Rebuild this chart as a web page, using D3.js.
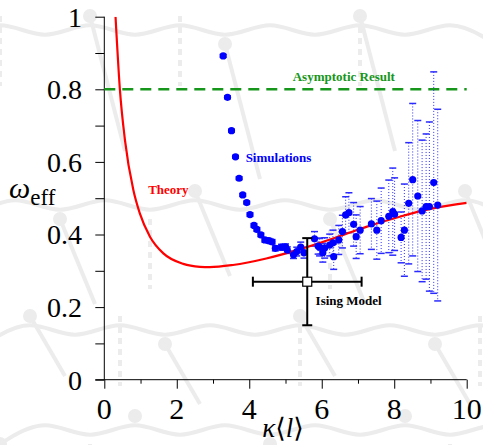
<!DOCTYPE html>
<html>
<head>
<meta charset="utf-8">
<script src="https://cdn.jsdelivr.net/npm/d3@7"></script>
<style>
  body { margin: 0; background: #fff; }
</style>
</head>
<body>
<svg id="chart"></svg>
<script>
// theory curve
const theoryK = [0.31, 0.43, 0.57, 0.8, 0.98, 1.26, 1.63, 2.18, 2.64, 2.91, 3.55, 4.47, 5.39, 6.31, 7.23, 8.15, 9.06, 10];
const theoryW = [1.0, 0.8, 0.66, 0.523, 0.458, 0.394, 0.348, 0.319, 0.311, 0.31, 0.316, 0.334, 0.359, 0.389, 0.421, 0.449, 0.472, 0.487];

// simulations: kappa <l>, omega_eff, error
const simK = [3.28, 3.40, 3.51, 3.62, 3.72, 3.82, 3.93, 4.02, 4.13, 4.21, 4.32, 4.43, 4.54, 4.63, 4.72, 4.89, 5.00, 5.05,
    5.22, 5.31, 5.42, 5.51, 5.80, 5.90, 5.94, 6.03, 6.08, 6.22, 6.31, 6.33, 6.47, 6.57, 6.66, 6.75, 6.88, 6.95, 7.06,
    7.37, 7.52, 7.64, 7.85, 7.96, 8.01, 8.19, 8.28, 8.40, 8.51, 8.65, 8.77, 8.88, 8.97, 9.09, 9.20];
const simW = [0.892, 0.778, 0.686, 0.614, 0.555, 0.509, 0.488, 0.455, 0.425, 0.414, 0.399, 0.385, 0.383, 0.380, 0.362, 0.365, 0.366, 0.357,
    0.344, 0.353, 0.365, 0.350, 0.388, 0.368, 0.365, 0.350, 0.363, 0.371, 0.377, 0.339, 0.385, 0.408, 0.454, 0.460, 0.428, 0.394, 0.412,
    0.429, 0.412, 0.438, 0.450, 0.463, 0.456, 0.392, 0.412, 0.486, 0.551, 0.506, 0.465, 0.477, 0.477, 0.543, 0.481];
const simErr = [0.004, 0.004, 0.004, 0.004, 0.004, 0.004, 0.004, 0.005, 0.005, 0.005, 0.005, 0.006, 0.006, 0.006, 0.007, 0.008, 0.008, 0.009,
    0.01, 0.012, 0.014, 0.015, 0.02, 0.022, 0.024, 0.026, 0.028, 0.03, 0.035, 0.035, 0.04, 0.045, 0.05, 0.055, 0.06, 0.06, 0.065,
    0.07, 0.08, 0.09, 0.1, 0.12, 0.1, 0.07, 0.127, 0.167, 0.21, 0.208, 0.195, 0.2, 0.233, 0.305, 0.264];

// Ising model point
const isingK = 5.6, isingW = 0.27, isingKErr = 1.5, isingWErr = 0.12;
const asymptote = 0.8;

const xTicks = [0, 2, 4, 6, 8, 10];
const yTicks = [0, 0.2, 0.4, 0.6, 0.8, 1];

const width = 483, height = 445;
const serif = "'Liberation Serif', 'DejaVu Serif', serif";
const svg = d3.select('#chart').attr('width', width).attr('height', height)
    .attr('font-family', serif);

const x = d3.scaleLinear().domain([0, 10]).range([104.3, 466.7]);
const y = d3.scaleLinear().domain([0, 1]).range([379.7, 16.7]);

// faint decorative background (chains of beads)
const bg = svg.append('g').attr('stroke', '#ececec').attr('fill', '#ececec');
const rows = [30, 205, 330, 430];
const rowPts = rows.map(function(y0, j) {
    return d3.range(-1, 12).map(function(i) { return [i * 45 + j * 15, y0 + (i % 2 ? 14 : -14)]; });
});
rowPts.forEach(function(pts, j) {
    bg.append('path').attr('d', d3.line().curve(d3.curveBasis)(pts)).attr('fill', 'none').attr('stroke-width', 4);
    pts.forEach(function(p, i) {
        if ((i + j) % 3 === 0) {
            bg.append('circle').attr('cx', p[0]).attr('cy', p[1]).attr('r', 7).attr('stroke', 'none');
            if (j < rows.length - 1) {
                const q = rowPts[j + 1][i];
                bg.append('line').attr('x1', p[0]).attr('y1', p[1]).attr('x2', q[0] + 20).attr('y2', q[1] - 40)
                    .attr('stroke-width', 4);
            }
        }
        if ((i + j) % 4 === 1) {
            bg.append('line').attr('x1', p[0]).attr('y1', p[1]).attr('x2', p[0]).attr('y2', p[1] + 70)
                .attr('stroke-width', 4).attr('stroke-dasharray', '6,5');
        }
    });
});

// axes
const yAxis = d3.axisLeft(y).tickValues(d3.range(0, 1.01, 0.1)).tickSize(9).tickFormat('');
svg.append('g').attr('transform', 'translate(' + x(0) + ',0)').call(yAxis)
    .call(function(g) { g.select('.domain').remove(); })
    .selectAll('line').attr('stroke', '#000');
svg.append('line').attr('x1', x(0)).attr('x2', x(0)).attr('y1', y(1)).attr('y2', y(0)).attr('stroke', '#000');

const xMajor = d3.axisBottom(x).tickValues(xTicks).tickSize(9).tickFormat('');
const xMinor = d3.axisBottom(x).tickValues([1, 3, 5, 7, 9]).tickSize(4).tickFormat('');
svg.append('g').attr('transform', 'translate(0,' + y(0) + ')').call(xMajor)
    .call(function(g) { g.select('.domain').remove(); });
svg.append('g').attr('transform', 'translate(0,' + y(0) + ')').call(xMinor)
    .call(function(g) { g.select('.domain').remove(); });
svg.append('line').attr('x1', x(0) - 9).attr('x2', x(10)).attr('y1', y(0)).attr('y2', y(0)).attr('stroke', '#000');

svg.append('g').selectAll('text').data(yTicks).enter().append('text')
    .attr('x', 82).attr('y', function(d) { return y(d); })
    .attr('dy', '0.35em').attr('text-anchor', 'end').attr('font-size', 28)
    .attr('font-family', serif)
    .text(function(d) { return d3.format('~g')(d); });

svg.append('g').selectAll('text').data(xTicks).enter().append('text')
    .attr('x', function(d) { return x(d); }).attr('y', 419)
    .attr('text-anchor', 'middle').attr('font-size', 30)
    .attr('font-family', serif)
    .text(function(d) { return d; });

// axis titles
const yl = svg.append('text').attr('x', 9).attr('y', 198).attr('font-size', 30).attr('font-family', serif);
yl.append('tspan').attr('font-style', 'italic').text('ω');
yl.append('tspan').attr('font-size', 23).attr('dy', 7).text('eff');

const xl = svg.append('text').attr('x', 283).attr('y', 437).attr('text-anchor', 'middle').attr('font-size', 27).attr('font-family', serif);
xl.append('tspan').attr('font-style', 'italic').text('κ');
xl.append('tspan').text('⟨');
xl.append('tspan').attr('font-style', 'italic').text('l');
xl.append('tspan').text('⟩');

// clip to plot area
svg.append('clipPath').attr('id', 'plot')
    .append('rect').attr('x', x(0)).attr('y', y(1)).attr('width', x(10) - x(0)).attr('height', y(0) - y(1));

// asymptotic result
svg.append('line')
    .attr('x1', x(0)).attr('x2', x(10)).attr('y1', y(asymptote)).attr('y2', y(asymptote))
    .attr('stroke', '#16961a').attr('stroke-width', 2.5).attr('stroke-dasharray', '11,7');

// simulation error bars
const sims = simK.map(function(k, i) { return { k: k, w: simW[i], e: simErr[i] }; });
const eb = svg.append('g').attr('stroke', '#2a2aff');
eb.selectAll('line.v').data(sims).enter().append('line')
    .attr('x1', function(d) { return x(d.k); }).attr('x2', function(d) { return x(d.k); })
    .attr('y1', function(d) { return y(d.w + d.e); }).attr('y2', function(d) { return y(d.w - d.e); })
    .attr('stroke-width', 1).attr('stroke-dasharray', '1,2');
[1, -1].forEach(function(s) {
    eb.selectAll(null).data(sims).enter().append('line')
        .attr('x1', function(d) { return x(d.k) - 3.5; }).attr('x2', function(d) { return x(d.k) + 3.5; })
        .attr('y1', function(d) { return y(d.w + s * d.e); }).attr('y2', function(d) { return y(d.w + s * d.e); })
        .attr('stroke-width', 1.5);
});

// theory curve
const theory = theoryK.map(function(k, i) { return [k, theoryW[i]]; });
svg.append('path')
    .attr('clip-path', 'url(#plot)')
    .attr('d', d3.line().x(function(d) { return x(d[0]); }).y(function(d) { return y(d[1]); }).curve(d3.curveMonotoneX)(theory))
    .attr('fill', 'none').attr('stroke', '#ff0000').attr('stroke-width', 2.2);

// simulation points
svg.append('g').selectAll('circle').data(sims).enter().append('circle')
    .attr('cx', function(d) { return x(d.k); }).attr('cy', function(d) { return y(d.w); })
    .attr('r', 3.6).attr('fill', '#0000ff');

// Ising model
const ising = svg.append('g').attr('stroke', '#000').attr('stroke-width', 2);
ising.append('line').attr('x1', x(isingK - isingKErr)).attr('x2', x(isingK + isingKErr)).attr('y1', y(isingW)).attr('y2', y(isingW));
ising.append('line').attr('x1', x(isingK)).attr('x2', x(isingK)).attr('y1', y(isingW + isingWErr)).attr('y2', y(isingW - isingWErr));
[isingK - isingKErr, isingK + isingKErr].forEach(function(k) {
    ising.append('line').attr('x1', x(k)).attr('x2', x(k)).attr('y1', y(isingW) - 5).attr('y2', y(isingW) + 5);
});
[isingW - isingWErr, isingW + isingWErr].forEach(function(w) {
    ising.append('line').attr('x1', x(isingK) - 5).attr('x2', x(isingK) + 5).attr('y1', y(w)).attr('y2', y(w));
});
ising.append('rect').attr('x', x(isingK) - 4.5).attr('y', y(isingW) - 4.5).attr('width', 9).attr('height', 9)
    .attr('fill', '#fff').attr('stroke-width', 1.2);

// annotations
function note(text, k, w, color) {
    svg.append('text').attr('x', x(k)).attr('y', y(w)).attr('font-family', serif)
        .attr('font-size', 13).attr('font-weight', 'bold').attr('fill', color).text(text);
}
note('Asymptotic Result', 5.2, 0.824, '#16961a');
note('Simulations', 3.9, 0.6, '#0000ff');
note('Theory', 1.21, 0.511, '#ff0000');
note('Ising Model', 5.83, 0.206, '#000');
</script>
</body>
</html>
